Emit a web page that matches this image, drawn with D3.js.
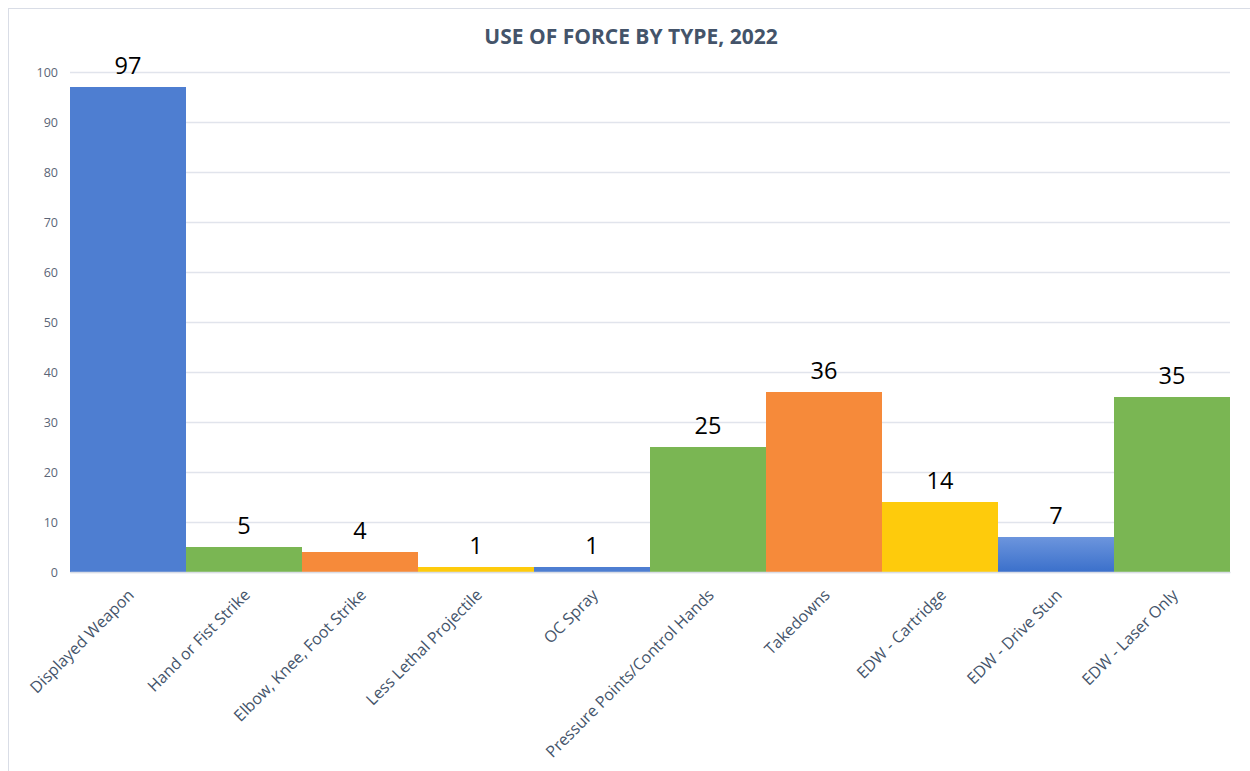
<!DOCTYPE html>
<html>
<head>
<meta charset="utf-8">
<script src="https://cdn.jsdelivr.net/npm/d3@7"></script>
<style>
  body { margin: 0; background: #fff; }
  svg { display: block; }
</style>
</head>
<body>
<div id="chart"></div>
<script>
const width = 1250, height = 771;

// values
const categories = ["Displayed Weapon", "Hand or Fist Strike", "Elbow, Knee, Foot Strike",
  "Less Lethal Projectile", "OC Spray", "Pressure Points/Control Hands", "Takedowns",
  "EDW - Cartridge", "EDW - Drive Stun", "EDW - Laser Only"];
const counts = [97, 5, 4, 1, 1, 25, 36, 14, 7, 35];
const barColors = ["#4e7ed1", "#7ab653", "#f68a3a", "#fecb0c", "#4e7ed1",
  "#7ab653", "#f68a3a", "#fecb0c", "url(#stun)", "#7ab653"];
const yTicks = [0, 10, 20, 30, 40, 50, 60, 70, 80, 90, 100];

const margin = {left: 70, right: 20, top: 72, bottom: 199};

const svg = d3.select("#chart").append("svg")
    .attr("width", width)
    .attr("height", height)
    .style("font-family", "'Open Sans', sans-serif");

const grad = svg.append("defs").append("linearGradient")
    .attr("id", "stun")
    .attr("x1", 0).attr("y1", 0).attr("x2", 0).attr("y2", 1);
grad.append("stop").attr("offset", "0%").attr("stop-color", "#6c95dd");
grad.append("stop").attr("offset", "100%").attr("stop-color", "#3b70cb");

// chart frame
svg.append("rect")
    .attr("x", 8.5).attr("y", 8.5)
    .attr("width", width).attr("height", height)
    .attr("fill", "none")
    .attr("stroke", "#d9dde6");

const x = d3.scaleBand()
    .domain(categories)
    .range([margin.left, width - margin.right])
    .padding(0);

const y = d3.scaleLinear()
    .domain([0, 100])
    .range([height - margin.bottom, margin.top]);

// gridlines
svg.append("g")
    .attr("transform", `translate(${margin.left},0)`)
    .call(d3.axisLeft(y).tickValues(yTicks).tickSize(-(width - margin.left - margin.right)).tickFormat(""))
    .call(g => g.select(".domain").remove())
    .call(g => g.selectAll("line").attr("stroke", "#e1e4ec").attr("stroke-width", 1.3));

// y labels
svg.append("g")
    .attr("transform", `translate(${margin.left},0)`)
    .call(d3.axisLeft(y).tickValues(yTicks).tickSize(0).tickPadding(12))
    .call(g => g.select(".domain").remove())
    .call(g => g.selectAll("text")
        .attr("fill", "#5b6577")
        .style("font-size", "12.5px")
        .style("font-family", "'Open Sans', sans-serif"));

// bars
svg.append("g")
  .selectAll("rect")
  .data(counts)
  .join("rect")
    .attr("x", (d, i) => x(categories[i]))
    .attr("y", d => y(d))
    .attr("width", x.bandwidth())
    .attr("height", d => y(0) - y(d))
    .attr("fill", (d, i) => barColors[i]);

// data labels
svg.append("g")
  .selectAll("text")
  .data(counts)
  .join("text")
    .attr("x", (d, i) => x(categories[i]) + x.bandwidth() / 2)
    .attr("y", d => y(d) - 13)
    .attr("text-anchor", "middle")
    .attr("fill", "#000")
    .style("font-size", "23.5px")
    .text(d => d);

// x axis labels
svg.append("g")
    .attr("transform", `translate(0,${y(0)})`)
    .call(d3.axisBottom(x).tickSize(0).tickPadding(0))
    .call(g => g.select(".domain").attr("stroke", "#d9dde6").attr("stroke-width", 1.3))
    .call(g => g.selectAll("text")
        .attr("fill", "#44546a")
        .style("font-size", "16px")
        .style("font-family", "'Open Sans', sans-serif")
        .attr("text-anchor", "end")
        .attr("dy", 0)
        .attr("y", 0)
        .attr("transform", "translate(7,24) rotate(-45)"));

// title
svg.append("text")
    .attr("x", 631)
    .attr("y", 44)
    .attr("text-anchor", "middle")
    .attr("fill", "#44546a")
    .style("font-size", "21px")
    .style("font-weight", "bold")
    .text("USE OF FORCE BY TYPE, 2022");
</script>
</body>
</html>
